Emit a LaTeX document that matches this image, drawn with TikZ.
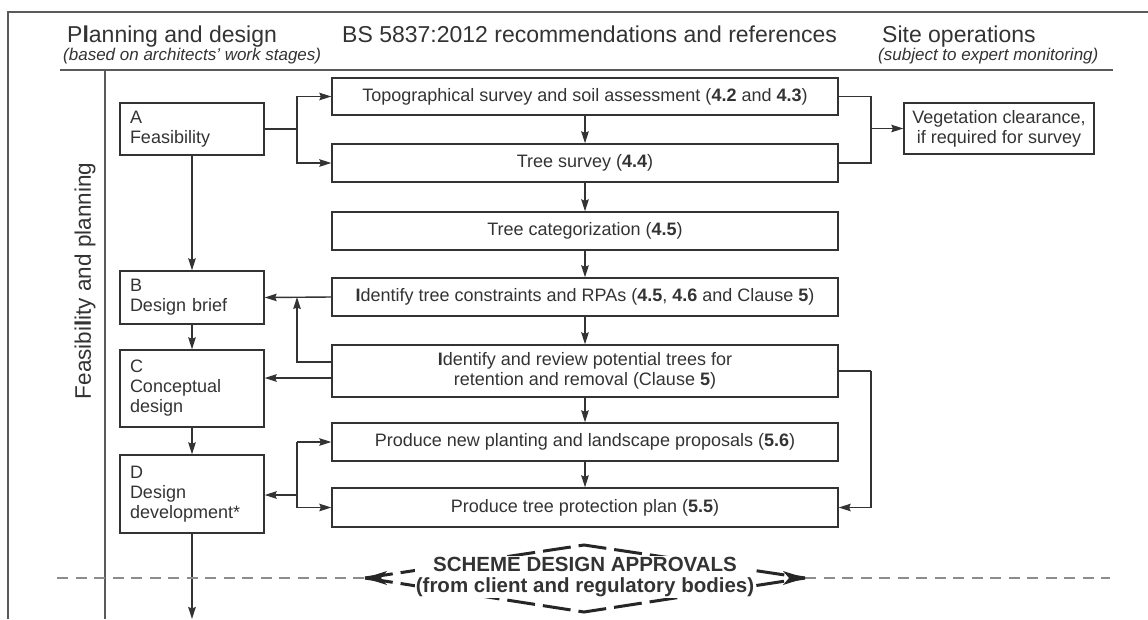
\documentclass[tikz,border=0pt]{standalone}
\usepackage{fontspec}
\setmainfont{Liberation Sans}
\usetikzlibrary{arrows.meta}
\definecolor{ink}{HTML}{333333}
\definecolor{framegray}{HTML}{5A5A5A}
\definecolor{dashgray}{HTML}{8C8C8C}
\begin{document}
\begin{tikzpicture}[x=1pt,y=-1pt,
  conn/.style={draw=ink, line width=1.4pt},
  arr/.style={conn, -{Stealth[length=12pt,width=7.5pt,inset=1.5pt]}},
  framel/.style={draw=framegray, line width=1.4pt},
  box/.style={draw=ink, line width=1.3pt, minimum width=506pt, minimum height=38pt, inner sep=0pt, align=center, text=ink, font=\fontsize{18}{20}\selectfont},
  stage/.style={draw=ink, line width=1.3pt, text width=124pt, inner xsep=10pt, inner ysep=0pt, align=left, text=ink, font=\fontsize{18}{20}\selectfont},
  hdr/.style={anchor=base west, inner sep=0pt, text=ink, font=\fontsize{23}{27}\selectfont},
  sub/.style={anchor=base west, inner sep=0pt, text=ink, font=\fontsize{17}{20}\selectfont\itshape},
  scheme/.style={fill=white, inner sep=1pt, align=center, text=ink, font=\fontsize{20.5}{21}\selectfont\bfseries}
]
\useasboundingbox (0,0) rectangle (1148,619);

% frame
\coordinate (f1) at (8,619);
\coordinate (f2) at (8,12);
\coordinate (f3) at (1148,12);
\draw[framel] (f1) -- (f2) -- (f3);
\coordinate (hl1) at (60,70);
\coordinate (hl2) at (1113,70);
\draw[framel] (hl1) -- (hl2);
\coordinate (vl1) at (105,70);
\coordinate (vl2) at (105,619);
\draw[framel] (vl1) -- (vl2);

% headers
\node[hdr] (h1) at (67,42) {P\textbf{l}anning and design};
\node[sub] (h1s) at (63,60) {(based on architects' work stages)};
\node[hdr] (h2) at (342,42) {BS 5837:2012 recommendations and references};
\node[hdr] (h3) at (882,42) {Site operations};
\node[sub] (h3s) at (878,60) {(subject to expert monitoring)};

\node[rotate=90, inner sep=0pt, text=ink, font=\fontsize{22.5}{27}\selectfont] (side) at (85,281) {Feasibi\textbf{l}ity and planning};

% stages
\node[stage, minimum height=52pt] (A) at (192,129) {A\\Feasibility};
\node[stage, minimum height=53pt] (B) at (192,297.5) {B\\Design brief};
\node[stage, minimum height=77pt] (C) at (192,388.5) {C\\Conceptual\\design};
\node[stage, minimum height=78pt] (D) at (192,494) {D\\Design\\development*};

% BS boxes
\node[box, minimum height=37pt] (topo) at (585,96.5) {Topographical survey and soil assessment (\textbf{4.2} and \textbf{4.3})};
\node[box] (survey) at (585,163) {Tree survey (\textbf{4.4})};
\node[box] (cat) at (585,231) {Tree categorization (\textbf{4.5})};
\node[box] (constr) at (585,297) {\textbf{I}dentify tree constraints and RPAs (\textbf{4.5}, \textbf{4.6} and Clause \textbf{5})};
\node[box, minimum height=52pt] (review) at (585,371) {\textbf{I}dentify and review potential trees for\\retention and removal (Clause \textbf{5})};
\node[box] (plant) at (585,442) {Produce new planting and landscape proposals (\textbf{5.6})};
\node[box, minimum height=39pt] (tpp) at (585,507.5) {Produce tree protection plan (\textbf{5.5})};

% site operations
\node[draw=ink, line width=1.3pt, minimum width=190pt, minimum height=51pt, inner sep=0pt, align=center, text=ink, font=\fontsize{18}{20}\selectfont] (veg) at (999,128.5) {Vegetation clearance,\\if required for survey};

% left column flow
\draw[arr] (A) -- (B);
\draw[arr] (B) -- (C);
\draw[arr] (C) -- (D);
\coordinate (dEnd) at (192,619);
\draw[arr] (D) -- (dEnd);

% A fork
\coordinate (jA) at (297,129);
\draw[conn] (A.east) -- (jA);
\draw[arr] (jA) |- (topo.west);
\draw[arr] (jA) |- (survey.west);

% central chain
\draw[arr] (topo) -- (survey);
\draw[arr] (survey) -- (cat);
\draw[arr] (cat) -- (constr);
\draw[arr] (constr) -- (review);
\draw[arr] (review) -- (plant);
\draw[arr] (plant) -- (tpp);

% to vegetation
\coordinate (jV) at (871,128.5);
\draw[conn] (topo.east) -| (jV);
\draw[conn] (survey.east) -| (jV);
\draw[arr] (jV) -- (veg.west);

% back to B and C
\coordinate (jB) at (297,297);
\draw[arr] (constr.west) -- (B.east);
\draw[arr] (review.west |- 0,362) -| (jB);
\draw[arr] (review.west |- 0,378) -- (C.east |- 0,378);

% review to tpp on right
\coordinate (jR) at (871,371);
\draw[conn] (review.east) -- (jR);
\draw[arr] (jR) |- (tpp.east);

% D fork
\coordinate (jD) at (297,495);
\coordinate (jDt) at (297,442);
\coordinate (jDb) at (297,507.5);
\draw[conn] (jDt) -- (jDb);
\draw[arr] (jD) -- (D.east |- jD);
\draw[arr] (jDt) -- (plant.west);
\draw[arr] (jDb) -- (tpp.west);

% dashed approval line
\coordinate (dl1) at (57,578);
\coordinate (dl2) at (365,578);
\coordinate (dl3) at (805,578);
\coordinate (dl4) at (1110,578);
\draw[dashgray, line width=2pt, dash pattern=on 11pt off 7.5pt] (dl1) -- (dl2);
\draw[dashgray, line width=2pt, dash pattern=on 11pt off 7.5pt] (dl3) -- (dl4);

% approval diamond
\coordinate (sL) at (365,578);
\coordinate (sT) at (584,545);
\coordinate (sR) at (805,578);
\coordinate (sB) at (584,612);
\draw[black!85, line width=3pt, dash pattern=on 28pt off 8pt] (sL) -- (sT) -- (sR);
\draw[black!85, line width=3pt, dash pattern=on 28pt off 8pt] (sL) -- (sB) -- (sR);
\fill[black!85] (sL) -- (387,571) -- (381,578) -- (387,585) -- cycle;
\fill[black!85] (sR) -- (783,571) -- (789,578) -- (783,585) -- cycle;
\node[scheme] (sch) at (585,577) {SCHEME DESIGN APPROVALS\\(from client and regulatory bodies)};
\end{tikzpicture}
\end{document}
